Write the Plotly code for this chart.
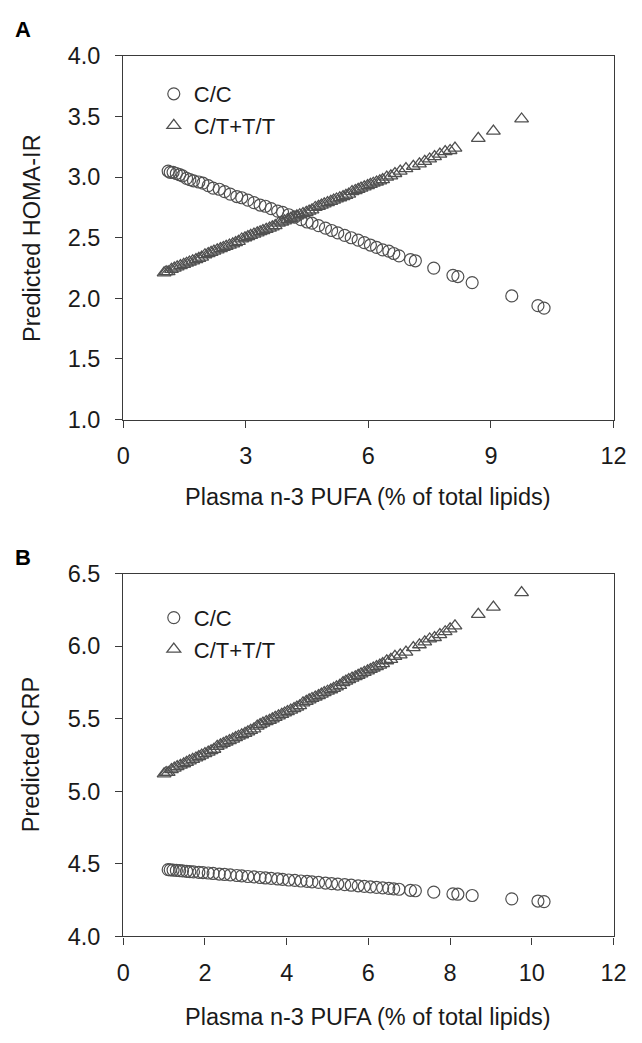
import plotly.graph_objects as go
from plotly.subplots import make_subplots

# Plasma n-3 PUFA (% of total lipids), same subjects in panels A and B
pufa_cc = [1.10, 1.15, 1.22, 1.30, 1.38, 1.45, 1.55, 1.63, 1.72, 1.85,
           1.95, 2.08, 2.20, 2.35, 2.48, 2.62, 2.78, 2.90, 3.05, 3.20,
           3.35, 3.48, 3.62, 3.78, 3.90, 4.05, 4.20, 4.35, 4.50, 4.62,
           4.78, 4.95, 5.10, 5.25, 5.42, 5.58, 5.75, 5.90, 6.05, 6.20,
           6.35, 6.50, 6.62, 6.75, 7.03, 7.15, 7.60, 8.07, 8.19, 8.54,
           9.51, 10.15, 10.30]
pufa_ct = [1.00, 1.05, 1.10, 1.18, 1.25, 1.32, 1.40, 1.48, 1.55, 1.62,
           1.70, 1.78, 1.85, 1.92, 2.00, 2.08, 2.15, 2.22, 2.30, 2.38,
           2.45, 2.52, 2.60, 2.68, 2.75, 2.82, 2.90, 2.98, 3.05, 3.12,
           3.20, 3.28, 3.35, 3.42, 3.50, 3.58, 3.65, 3.72, 3.80, 3.88,
           3.95, 4.02, 4.10, 4.18, 4.25, 4.32, 4.40, 4.48, 4.55, 4.62,
           4.70, 4.78, 4.85, 4.92, 5.00, 5.08, 5.15, 5.22, 5.30, 5.38,
           5.45, 5.52, 5.60, 5.68, 5.75, 5.82, 5.90, 5.98, 6.05, 6.12,
           6.20, 6.28, 6.35, 6.45, 6.55, 6.65, 6.78, 6.92, 7.10, 7.25,
           7.38, 7.50, 7.62, 7.75, 7.88, 8.00, 8.12, 8.69, 9.06, 9.75]

# A: predicted HOMA-IR
homa_cc = [3.05, 3.04, 3.04, 3.03, 3.02, 3.01, 2.99, 2.98, 2.97, 2.96,
           2.95, 2.93, 2.91, 2.90, 2.88, 2.86, 2.84, 2.83, 2.81, 2.79,
           2.77, 2.76, 2.74, 2.72, 2.71, 2.69, 2.67, 2.65, 2.63, 2.62,
           2.60, 2.58, 2.56, 2.54, 2.52, 2.50, 2.48, 2.46, 2.44, 2.42,
           2.40, 2.39, 2.37, 2.35, 2.32, 2.31, 2.25, 2.19, 2.18, 2.13,
           2.02, 1.94, 1.92]
homa_ct = [2.21, 2.22, 2.22, 2.24, 2.25, 2.26, 2.27, 2.28, 2.29, 2.30,
           2.31, 2.32, 2.33, 2.34, 2.36, 2.37, 2.38, 2.39, 2.40, 2.41,
           2.42, 2.43, 2.44, 2.45, 2.46, 2.47, 2.49, 2.50, 2.51, 2.52,
           2.53, 2.54, 2.55, 2.56, 2.57, 2.58, 2.59, 2.60, 2.62, 2.63,
           2.64, 2.65, 2.66, 2.67, 2.68, 2.69, 2.70, 2.71, 2.72, 2.73,
           2.75, 2.76, 2.77, 2.78, 2.79, 2.80, 2.81, 2.82, 2.83, 2.84,
           2.85, 2.86, 2.88, 2.89, 2.90, 2.91, 2.92, 2.93, 2.94, 2.95,
           2.96, 2.97, 2.98, 3.00, 3.01, 3.03, 3.05, 3.07, 3.09, 3.11,
           3.13, 3.15, 3.17, 3.19, 3.21, 3.22, 3.24, 3.32, 3.38, 3.48]

# B: predicted CRP
crp_cc = [4.460, 4.459, 4.457, 4.455, 4.453, 4.452, 4.449, 4.447, 4.445, 4.442,
          4.440, 4.437, 4.434, 4.430, 4.427, 4.424, 4.420, 4.417, 4.413, 4.410,
          4.406, 4.403, 4.400, 4.396, 4.393, 4.389, 4.386, 4.382, 4.379, 4.376,
          4.372, 4.368, 4.364, 4.361, 4.357, 4.353, 4.349, 4.345, 4.342, 4.338,
          4.335, 4.331, 4.328, 4.325, 4.318, 4.315, 4.305, 4.293, 4.291, 4.282,
          4.259, 4.244, 4.240]
crp_ct = [5.12, 5.13, 5.13, 5.15, 5.16, 5.17, 5.18, 5.19, 5.20, 5.21,
          5.22, 5.23, 5.24, 5.25, 5.26, 5.27, 5.28, 5.29, 5.31, 5.32,
          5.33, 5.34, 5.35, 5.36, 5.37, 5.38, 5.39, 5.40, 5.41, 5.42,
          5.43, 5.45, 5.46, 5.47, 5.48, 5.49, 5.50, 5.51, 5.52, 5.53,
          5.54, 5.55, 5.56, 5.57, 5.58, 5.59, 5.61, 5.62, 5.63, 5.64,
          5.65, 5.66, 5.67, 5.68, 5.69, 5.70, 5.71, 5.72, 5.73, 5.75,
          5.76, 5.77, 5.78, 5.79, 5.80, 5.81, 5.82, 5.83, 5.84, 5.85,
          5.86, 5.87, 5.88, 5.90, 5.91, 5.93, 5.94, 5.96, 5.99, 6.01,
          6.03, 6.05, 6.06, 6.08, 6.10, 6.12, 6.14, 6.22, 6.27, 6.37]

FONT = "Liberation Sans, Arial, sans-serif"
GREY = "#505050"
AXIS = "#3a3a3a"
TXT = "#1a1a1a"

fig = make_subplots(rows=2, cols=1)

m_cc = dict(symbol="circle-open", size=12, color=GREY, line=dict(width=1.2))
m_ct = dict(symbol="triangle-up-open", size=12, color=GREY, line=dict(width=1.3))

fig.add_trace(go.Scatter(x=pufa_cc, y=homa_cc, mode="markers", name="C/C",
                         marker=m_cc, legend="legend"), row=1, col=1)
fig.add_trace(go.Scatter(x=pufa_ct, y=homa_ct, mode="markers", name="C/T+T/T",
                         marker=m_ct, legend="legend"), row=1, col=1)
fig.add_trace(go.Scatter(x=pufa_cc, y=crp_cc, mode="markers", name="C/C",
                         marker=m_cc, legend="legend2"), row=2, col=1)
fig.add_trace(go.Scatter(x=pufa_ct, y=crp_ct, mode="markers", name="C/T+T/T",
                         marker=m_ct, legend="legend2"), row=2, col=1)

axis_style = dict(showline=True, linecolor=AXIS, linewidth=1.4, mirror=True,
                  ticks="outside", ticklen=7, tickwidth=1.4, tickcolor=AXIS,
                  showgrid=False, zeroline=False,
                  tickfont=dict(family=FONT, size=23.5, color=TXT))

fig.update_xaxes(axis_style, ticklabelstandoff=8)
fig.update_yaxes(axis_style, ticklabelstandoff=10)

fig.update_xaxes(range=[0, 12], dtick=3, domain=[0.1869, 0.9751], row=1, col=1)
fig.update_xaxes(range=[0, 12], dtick=2, domain=[0.1869, 0.9751], row=2, col=1)
fig.update_yaxes(range=[1, 4], dtick=0.5, tickformat=".1f",
                 domain=[0.6002, 0.9578], row=1, col=1)
fig.update_yaxes(range=[4, 6.5], dtick=0.5, tickformat=".1f",
                 domain=[0.0920, 0.4487], row=2, col=1)

leg = dict(xanchor="left", yanchor="top", bgcolor="rgba(0,0,0,0)",
           font=dict(family=FONT, size=22, color=TXT),
           itemwidth=30, tracegroupgap=0)

fig.update_layout(
    width=642, height=1043,
    margin=dict(l=0, r=0, t=0, b=0),
    plot_bgcolor="white", paper_bgcolor="white",
    font=dict(family=FONT, size=23.5, color=TXT),
    legend=dict(leg, x=0.236, y=0.941),
    legend2=dict(leg, x=0.236, y=0.426),
)

titles = [
    dict(text="Plasma n-3 PUFA (% of total lipids)", x=0.581, y=0.5245),
    dict(text="Plasma n-3 PUFA (% of total lipids)", x=0.581, y=0.0125),
    dict(text="Predicted HOMA-IR", x=0.039, y=0.779, textangle=-90),
    dict(text="Predicted CRP", x=0.039, y=0.2704, textangle=-90),
]
for t in titles:
    fig.add_annotation(t, xref="paper", yref="paper", showarrow=False,
                       xanchor="center", yanchor="middle",
                       font=dict(family=FONT, size=23.5, color=TXT))

for lab, yy in [("A", 0.9837), ("B", 0.465)]:
    fig.add_annotation(text="<b>" + lab + "</b>", xref="paper", yref="paper",
                       x=0.010, y=yy, xanchor="left", yanchor="middle",
                       showarrow=False,
                       font=dict(family=FONT, size=22, color="black"))

# pin the figure to the top-left corner of the page (no body margin)
pin = ("document.body.style.margin='0';"
       "var g=document.getElementById('{plot_id}');"
       "g.style.position='fixed';g.style.left='0px';g.style.top='0px';")
fig.write_html("out.html", config={"displayModeBar": False}, post_script=pin)
